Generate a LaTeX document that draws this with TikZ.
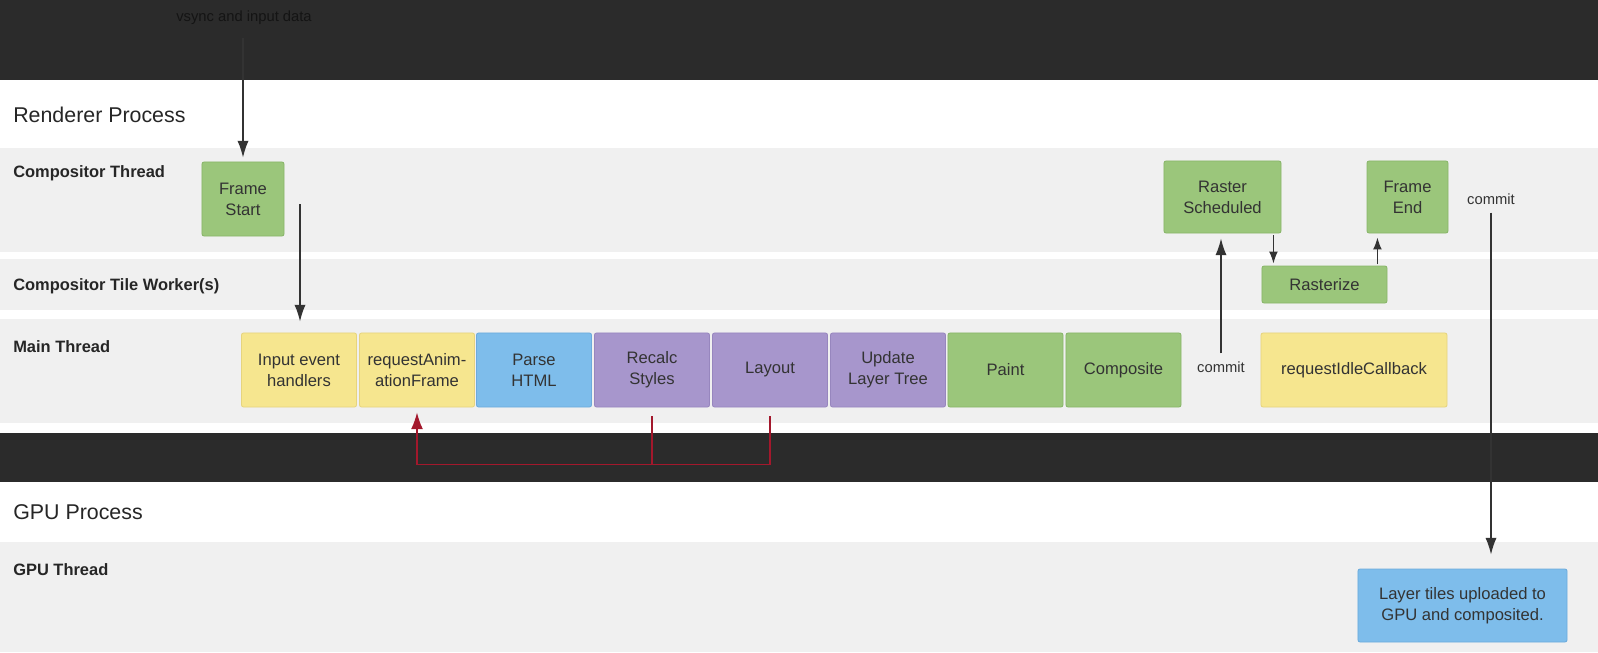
\documentclass[tikz,border=0pt]{standalone}
\usepackage{fontspec}
\setmainfont{Liberation Sans}
\usepackage{tikz}
\usetikzlibrary{calc,arrows.meta}
\definecolor{band}{HTML}{2B2B2B}
\definecolor{lane}{HTML}{F0F0F0}
\definecolor{ink}{HTML}{333333}
\definecolor{vsyncink}{HTML}{141414}
\definecolor{green}{HTML}{9BC67B}
\definecolor{greenline}{HTML}{88B568}
\definecolor{yellow}{HTML}{F6E68F}
\definecolor{yellowline}{HTML}{E6D47E}
\definecolor{blue}{HTML}{7EBDEB}
\definecolor{blueline}{HTML}{6CABDC}
\definecolor{purple}{HTML}{A796CC}
\definecolor{purpleline}{HTML}{9786BE}
\definecolor{loopred}{HTML}{A3182C}
\tikzset{
  task/.style={rectangle, rounded corners=1.5pt, line width=0.6pt, inner sep=0pt,
    align=center, text=ink, font=\fontsize{11.8}{14.9}\selectfont},
  main/.style={minimum width=2.875cm, minimum height=1.85cm},
  gtask/.style={task, fill=green, draw=greenline},
  ytask/.style={task, fill=yellow, draw=yellowline},
  btask/.style={task, fill=blue, draw=blueline},
  ptask/.style={task, fill=purple, draw=purpleline},
  flow/.style={draw=black!80, line width=1pt, -{Latex[length=0.42cm,width=0.28cm]}},
  loopback/.style={draw=loopred, line width=1.1pt},
  lanelab/.style={anchor=west, inner sep=0pt, text=black!85, font=\bfseries\fontsize{11.7}{14}\selectfont},
  proclab/.style={anchor=west, inner sep=0pt, text=black!85, font=\fontsize{15.2}{18}\selectfont},
  note/.style={inner sep=0pt, text=ink, font=\fontsize{10.5}{12}\selectfont}
}
\begin{document}
\begin{tikzpicture}[x=0.025cm, y=-0.025cm]
  \useasboundingbox (0,0) rectangle (1598,652);
  \fill[white] (0,0) rectangle (1598,652);
  \fill[band] (0,0) rectangle (1598,80);
  \fill[lane] (0,148) rectangle (1598,252);
  \fill[lane] (0,259) rectangle (1598,310);
  \fill[lane] (0,319) rectangle (1598,423);
  \fill[band] (0,433) rectangle (1598,482);
  \fill[lane] (0,542) rectangle (1598,652);

  \node[proclab] (renderer) at (13,115) {Renderer Process};
  \node[lanelab] (compthread) at (13,173) {Compositor Thread};
  \node[lanelab] (tileworker) at (13,286) {Compositor Tile Worker(s)};
  \node[lanelab] (mainthread) at (13,347) {Main Thread};
  \node[proclab] (gpuproc) at (13,512) {GPU Process};
  \node[lanelab] (gputhread) at (13,570) {GPU Thread};

  \node[gtask, minimum width=2.05cm, minimum height=1.85cm] (framestart) at (243,199) {Frame\\Start};
  \node[ytask, main] (input) at (299,370) {Input event\\handlers};
  \node[ytask, main] (raf) at (417,370) {requestAnim-\\ationFrame};
  \node[btask, main] (parse) at (534,370) {Parse\\HTML};
  \node[ptask, main] (recalc) at (652,370) {Recalc\\Styles};
  \node[ptask, main] (layout) at (770,370) {Layout};
  \node[ptask, main] (update) at (888,370) {Update\\Layer Tree};
  \node[gtask, main] (paint) at (1005.5,370) {Paint};
  \node[gtask, main] (composite) at (1123.5,370) {Composite};
  \node[ytask, minimum width=4.65cm, minimum height=1.85cm] (idle) at (1354,370) {requestIdleCallback};
  \node[gtask, minimum width=2.925cm, minimum height=1.8cm] (rastersched) at (1222.5,197) {Raster\\Scheduled};
  \node[gtask, minimum width=2.025cm, minimum height=1.8cm] (frameend) at (1407.5,197) {Frame\\End};
  \node[gtask, minimum width=3.125cm, minimum height=0.925cm] (rasterize) at (1324.5,284.5) {Rasterize};
  \node[btask, minimum width=5.225cm, minimum height=1.825cm] (gpuupload) at (1462.5,605.5) {Layer tiles uploaded to\\GPU and composited.};

  \node[note, text=vsyncink] (vsync) at (244,18) {vsync and input data};
  \node[note] (commitmain) at (1221,367) {commit};
  \node[note] (commitgpu) at (1491,199) {commit};
  \coordinate (fsout) at (300,204);

  \draw[flow, shorten <=0.33cm, shorten >=0.1cm] (vsync.south -| framestart.north) -- (framestart.north);
  \draw[flow, shorten >=0.275cm] (fsout) -- (fsout |- input.north);
  \draw[flow, shorten <=0.2cm, shorten >=0.125cm] (commitmain.north) -- (commitmain.north |- rastersched.south);
  \draw[flow, -{Latex[length=0.3cm,width=0.22cm]}, shorten <=0.05cm, shorten >=0.05cm] ([shift={(-8,0)}]rastersched.south east) -- ([shift={(-8,0)}]rastersched.south east |- rasterize.north);
  \draw[flow, -{Latex[length=0.3cm,width=0.22cm]}, shorten <=0.03cm, shorten >=0.1cm] ([shift={(-10,0)}]rasterize.north east) -- ([shift={(-10,0)}]rasterize.north east |- frameend.south);
  \draw[flow, shorten <=0.2cm, shorten >=0.35cm] (commitgpu.south) -- (commitgpu.south |- gpuupload.north);

  \draw[loopback, -{Latex[length=0.42cm,width=0.3cm]}] ([shift={(0,9)}]layout.south) -- ++(0,48) -| ([shift={(0,5)}]raf.south);
  \draw[loopback] ([shift={(0,9)}]recalc.south) -- ++(0,48);
\end{tikzpicture}
\end{document}
